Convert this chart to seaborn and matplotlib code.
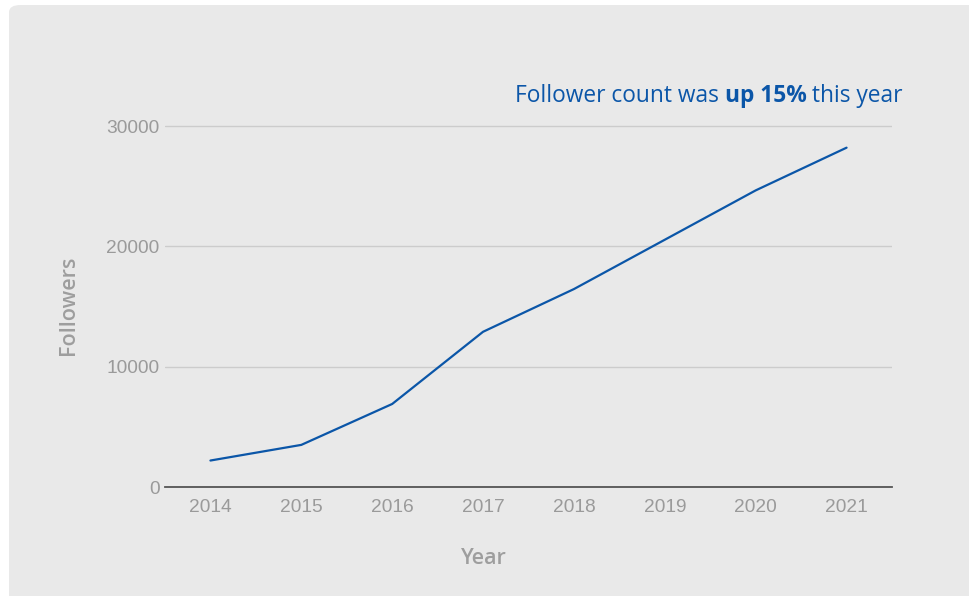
import matplotlib
matplotlib.use("Agg")
import matplotlib.pyplot as plt
import seaborn as sns
import pandas as pd
from matplotlib.patches import FancyBboxPatch

# Data
years = [2014, 2015, 2016, 2017, 2018, 2019, 2020, 2021]
followers = [2200, 3500, 6900, 12900, 16450, 20550, 24650, 28200]
y_ticks = [0, 10000, 20000, 30000]

df = pd.DataFrame({"Year": years, "Followers": followers})

sns.set_style("white")
plt.rcParams['font.family'] = ['Liberation Sans', 'DejaVu Sans']

bg = "#e9e9e9"
tick_grey = "#9a9a9a"
blue = "#0b56a8"
title_font = ["Open Sans", "DejaVu Sans"]

fig = plt.figure(figsize=(9.7, 5.96), dpi=100)
fig.patch.set_facecolor("white")

# background axes holding the rounded grey panel
bg_ax = fig.add_axes([0, 0, 1, 1], zorder=0)
bg_ax.set_axis_off()
bg_ax.add_patch(FancyBboxPatch((9 / 970, -0.05), 1.2, 1.05 - 5 / 596,
                               boxstyle="round,pad=0,rounding_size=0.012",
                               facecolor=bg, edgecolor="none"))
bg_ax.set_xlim(0, 1)
bg_ax.set_ylim(0, 1)

ax = fig.add_axes([165 / 970, 1 - 487 / 596, (892 - 165) / 970, (487 - 120) / 596], zorder=1)
ax.patch.set_alpha(0)

sns.lineplot(data=df, x="Year", y="Followers", color=blue, linewidth=1.6, ax=ax)

ax.set_xlim(2013.5, 2021.5)
ax.set_ylim(0, 30500)
ax.set_yticks(y_ticks)
ax.set_xticks(years)
ax.set_xticklabels([str(y) for y in years])
ax.grid(axis="y", color="#cccccc", linewidth=1)
ax.grid(axis="x", visible=False)
for s in ["top", "right", "left"]:
    ax.spines[s].set_visible(False)
ax.spines["bottom"].set_color("#555555")
ax.spines["bottom"].set_linewidth(1.3)
ax.spines["bottom"].set_zorder(3)
ax.tick_params(axis="both", length=0, labelsize=13.8, labelcolor=tick_grey)
ax.tick_params(axis="x", pad=8.5)
ax.tick_params(axis="y", pad=4)

ax.set_xlabel("Year", fontsize=15.5, color="#9e9e9e", family=title_font,
              fontweight="semibold")
ax.set_ylabel("Followers", fontsize=15.5, color="#9e9e9e", family=title_font,
              fontweight="semibold")
ax.xaxis.set_label_coords((484 - 165) / 727, -(558 - 487) / 367, transform=ax.transAxes)
ax.yaxis.set_label_coords(-(165 - 68) / 727, (487 - 305) / 367, transform=ax.transAxes)
ax.xaxis.label.set_va("center")
ax.yaxis.label.set_va("center")

# title with a bold fragment, right aligned; placed piece by piece from the right
parts = [("Follower count was ", "normal"), ("up 15%", "bold"), (" this year", "normal")]
fig.canvas.draw()
renderer = fig.canvas.get_renderer()
x_right = 903
y_pos = 1 - 96 / 596
for txt, weight in reversed(parts):
    t = fig.text(x_right / 970, y_pos, txt, ha="right", va="center", fontsize=16.4,
                 color=blue, family=title_font, fontweight=weight)
    w = t.get_window_extent(renderer).width
    x_right -= w

fig.savefig("out.png", dpi=100, facecolor="white")
